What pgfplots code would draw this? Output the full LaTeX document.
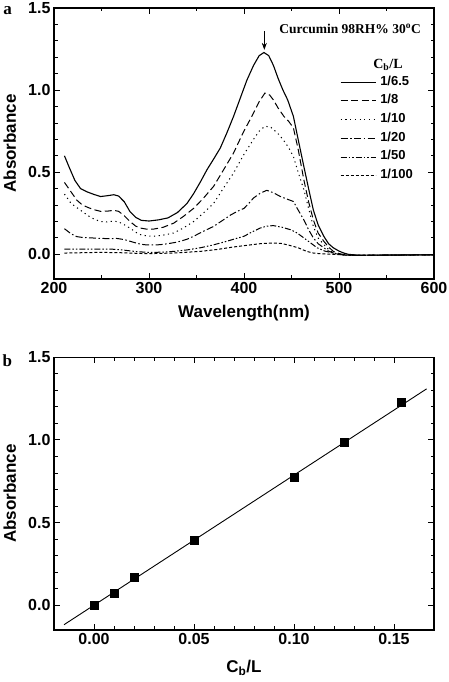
\documentclass[border=0pt]{standalone}
\usepackage{fontspec}
\setmainfont{Liberation Sans}
\newfontfamily\serifb{Liberation Serif}
\usepackage{pgfplots}
\pgfplotsset{compat=1.18}
\usetikzlibrary{arrows.meta}

\pgfplotsset{
  myax/.style={
    scale only axis, width=380pt,
    axis line style={line width=1.2pt},
    tick style={line width=0.9pt, black},
    major tick length=6pt, minor tick length=3.5pt,
    tick align=inside,
    xtick pos=both, ytick pos=both,
    xticklabel pos=lower, yticklabel pos=left,
    ticklabel style={font=\fontsize{16}{18}\selectfont\bfseries},
    /pgf/number format/assume math mode=true,
    label style={font=\fontsize{17}{19}\selectfont\bfseries},
    ymin=-0.15, ymax=1.5,
    ytick={0,0.5,1,1.5}, minor y tick num=4,
    yticklabel style={/pgf/number format/.cd, fixed, fixed zerofill, precision=1},
    clip=false,
  },
  c1/.style={black, line width=1.1pt},
  c2/.style={black, line width=1.0pt, dash pattern=on 7pt off 3.5pt},
  c3/.style={black, line width=1.0pt, dash pattern=on 1.2pt off 3.5pt},
  c4/.style={black, line width=1.0pt, dash pattern=on 7pt off 2.5pt on 1.5pt off 2.5pt},
  c5/.style={black, line width=1.0pt, dash pattern=on 6pt off 2pt on 1.5pt off 2pt on 1.5pt off 2pt},
  c6/.style={black, line width=1.0pt, dash pattern=on 3pt off 2pt},
}

\begin{document}
\begin{tikzpicture}
\useasboundingbox (0,0) rectangle (448pt,682pt);

% ---------- panel a ----------
\begin{axis}[myax,
  at={(54pt,403pt)}, anchor=south west, height=271pt,
  xmin=200, xmax=600, xtick={200,300,400,500,600}, minor x tick num=1,
  xlabel={Wavelength(nm)}, ylabel={Absorbance},
  xlabel style={at={(axis description cs:0.5,-0.125)}, anchor=center},
  ylabel style={at={(axis description cs:-0.116,0.5)}, anchor=center},
  legend style={at={(axis cs:501,1.09)}, anchor=north west, draw=none, fill=none,
    inner sep=0pt, column sep=4pt, row sep=5.2pt,
    font=\fontsize{13}{15}\selectfont\bfseries,
    nodes={inner sep=0pt, text height=9.5pt, text depth=4pt}},
  legend cell align=left,
  legend image code/.code={\draw[#1] (0pt,0pt) -- (35pt,0pt);},
]
\addplot[c1] coordinates {(211,0.600)(216,0.53)(222,0.45)(228,0.40)(235,0.38)(242,0.365)(249,0.352)(256,0.357)(263,0.363)(268,0.355)(274,0.32)(280,0.26)(286,0.225)(292,0.207)(300,0.203)(310,0.21)(320,0.222)(330,0.255)(340,0.31)(347,0.37)(354,0.44)(361,0.515)(368,0.58)(375,0.647)(382,0.74)(389,0.84)(396,0.95)(403,1.06)(410,1.15)(416,1.21)(421,1.229)(426,1.21)(431,1.15)(436,1.07)(441,1.00)(446,0.94)(452,0.84)(457,0.70)(463,0.535)(468,0.40)(473,0.27)(478,0.18)(484,0.11)(489,0.065)(494,0.04)(500,0.02)(505,0.008)(510,0.0)(520,-0.005)(540,-0.005)(560,-0.003)(600,-0.003)};
\addlegendentry{1/6.5}
\addplot[c2] coordinates {(211,0.438)(218,0.38)(224,0.33)(230,0.30)(236,0.285)(242,0.272)(249,0.262)(256,0.263)(263,0.268)(268,0.262)(274,0.235)(280,0.20)(286,0.172)(291,0.16)(298,0.153)(305,0.154)(315,0.165)(326,0.19)(336,0.23)(347,0.28)(357,0.34)(368,0.414)(378,0.51)(389,0.617)(399,0.74)(410,0.86)(416,0.93)(422,0.982)(427,0.97)(431,0.94)(436,0.89)(442,0.84)(447,0.81)(452,0.77)(457,0.64)(463,0.454)(468,0.32)(473,0.21)(478,0.13)(484,0.08)(489,0.045)(494,0.018)(500,0.005)(508,-0.005)(520,-0.006)(560,-0.004)(600,-0.003)};
\addlegendentry{1/8}
\addplot[c3] coordinates {(211,0.367)(218,0.31)(224,0.285)(230,0.26)(236,0.235)(242,0.215)(249,0.20)(256,0.198)(263,0.202)(268,0.198)(274,0.18)(280,0.16)(286,0.135)(291,0.12)(298,0.112)(305,0.11)(315,0.117)(326,0.13)(336,0.16)(347,0.20)(357,0.25)(368,0.31)(378,0.40)(389,0.495)(399,0.60)(410,0.70)(416,0.75)(422,0.78)(428,0.775)(435,0.74)(441,0.70)(447,0.65)(452,0.596)(457,0.50)(463,0.394)(468,0.28)(473,0.17)(478,0.10)(484,0.06)(489,0.03)(494,0.008)(500,0.0)(510,-0.006)(530,-0.006)(600,-0.003)};
\addlegendentry{1/10}
\addplot[c4] coordinates {(211,0.156)(218,0.125)(224,0.108)(230,0.103)(240,0.10)(249,0.097)(258,0.096)(266,0.097)(274,0.09)(284,0.073)(291,0.062)(298,0.057)(305,0.057)(312,0.059)(320,0.065)(330,0.075)(340,0.092)(347,0.11)(357,0.14)(368,0.17)(377,0.205)(386,0.24)(393,0.262)(400,0.28)(405,0.31)(410,0.343)(417,0.372)(424,0.39)(431,0.375)(438,0.353)(445,0.337)(452,0.322)(457,0.27)(463,0.21)(468,0.15)(473,0.10)(478,0.065)(484,0.04)(489,0.02)(494,0.008)(500,0.0)(510,-0.006)(530,-0.006)(600,-0.003)};
\addlegendentry{1/20}
\addplot[c5] coordinates {(211,0.032)(230,0.032)(249,0.032)(260,0.032)(270,0.028)(285,0.018)(298,0.012)(312,0.013)(326,0.018)(340,0.027)(354,0.04)(368,0.058)(382,0.08)(392,0.097)(400,0.11)(408,0.135)(417,0.16)(424,0.172)(431,0.175)(440,0.165)(449,0.15)(456,0.13)(463,0.10)(470,0.07)(477,0.04)(485,0.02)(494,0.008)(505,-0.004)(520,-0.006)(600,-0.003)};
\addlegendentry{1/50}
\addplot[c6] coordinates {(211,0.008)(230,0.010)(249,0.012)(270,0.01)(298,0.004)(326,0.008)(354,0.018)(372,0.03)(389,0.045)(403,0.055)(417,0.065)(431,0.069)(440,0.066)(449,0.053)(457,0.04)(466,0.018)(473,0.008)(480,0.004)(494,0.0)(510,-0.005)(530,-0.005)(600,-0.003)};
\addlegendentry{1/100}
\node[font=\serifb\fontsize{13.5}{15}\selectfont\bfseries, anchor=center] at (axis cs:511.6,1.373) {Curcumin 98RH\% 30\textsuperscript{o}C};
\node[font=\serifb\fontsize{14}{16}\selectfont\bfseries, anchor=center] at (axis cs:551.6,1.154) {C\textsubscript{b}/L};
\draw[-{Stealth[length=7pt,width=5pt]}, line width=0.8pt] (axis cs:421.4,1.357) -- (axis cs:421.4,1.245);
\end{axis}

% ---------- panel b ----------
\begin{axis}[myax,
  at={(54pt,52pt)}, anchor=south west, height=272.7pt,
  xmin=-0.02, xmax=0.17, xtick={0,0.05,0.1,0.15}, minor x tick num=4,
  xticklabel style={/pgf/number format/.cd, fixed, fixed zerofill, precision=2},
  xlabel={C\textsubscript{b}/L}, ylabel={Absorbance},
  xlabel style={at={(axis description cs:0.5,-0.139)}, anchor=center},
  ylabel style={at={(axis description cs:-0.116,0.5)}, anchor=center},
]
\addplot[black, line width=0.9pt] coordinates {(-0.015,-0.118)(0.1663,1.309)};
\addplot[only marks, mark=square*, mark size=4pt, black] coordinates {(0,0)(0.01,0.073)(0.02,0.172)(0.05,0.392)(0.1,0.774)(0.125,0.988)(0.1538,1.228)};
\end{axis}

\node[font=\serifb\fontsize{17}{19}\selectfont\bfseries, anchor=base, inner sep=0pt] at (7.5pt,667pt) {a};
\node[font=\serifb\fontsize{17}{19}\selectfont\bfseries, anchor=base, inner sep=0pt] at (7.3pt,315.3pt) {b};
\end{tikzpicture}
\end{document}
